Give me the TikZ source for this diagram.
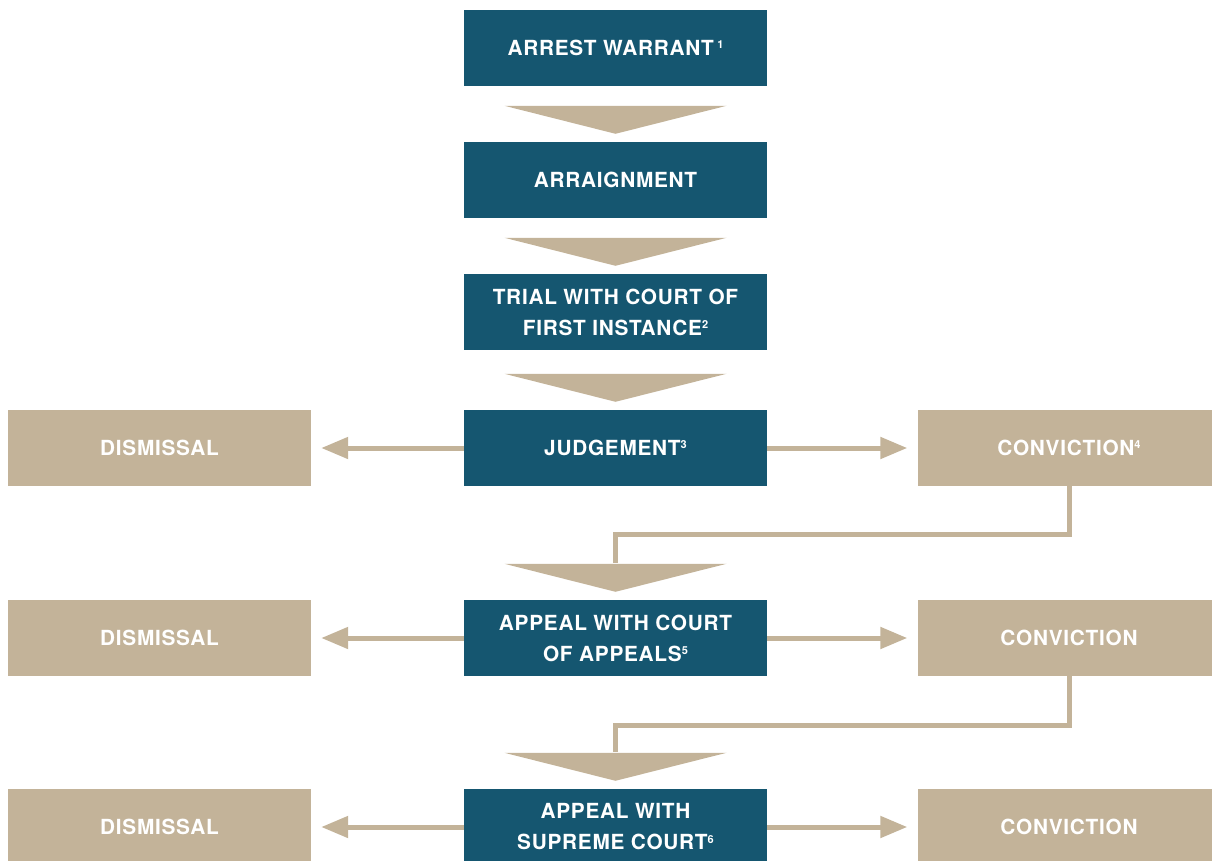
\documentclass[tikz,border=0pt]{standalone}
\usepackage{fontspec}
\setmainfont{TeX Gyre Heros}[LetterSpace=3.5]
\usetikzlibrary{arrows.meta,calc}
\definecolor{navy}{HTML}{155670}
\definecolor{sand}{HTML}{C3B399}
% small raised footnote digit
\newcommand\fnmark[1]{\raisebox{0.62ex}{\fontsize{11}{11}\selectfont #1}}
% wide flat arrowhead sitting just above a stage box
\newcommand\headto[1]{\fill[sand] ($(#1.north)+(-111,-36)$) -- ($(#1.north)+(111,-36)$) -- ($(#1.north)+(0,-8)$) -- cycle;}

\begin{document}
\begin{tikzpicture}[x=1pt,y=-1pt,
  stage/.style={fill=navy,text=white,minimum width=303pt,minimum height=76pt,
    inner sep=0pt,align=center,font=\fontsize{20.8}{31}\selectfont\bfseries},
  outcome/.style={stage,fill=sand},
  flow/.style={draw=sand,line width=5pt},
  side/.style={flow,-{Triangle[length=27pt,width=21pt]},shorten >=10pt},
]
\useasboundingbox (0,0) rectangle (1212,861);

% main procedure
\node[stage] (warrant) at (615.5,48)  {ARREST WARRANT\,\fnmark{1}};
\node[stage] (arraign) at (615.5,180) {ARRAIGNMENT};
\node[stage] (trial)   at (615.5,312) {TRIAL WITH COURT OF\\FIRST INSTANCE\fnmark{2}};
\node[stage] (judge)   at (615.5,448) {JUDGEMENT\fnmark{3}};
\node[stage] (appeal)  at (615.5,638) {APPEAL WITH COURT\\OF APPEALS\fnmark{5}};
\node[stage] (supreme) at (615.5,827) {APPEAL WITH\\SUPREME COURT\fnmark{6}};

% outcomes
\node[outcome] (dis1)  at (159.5,448) {DISMISSAL};
\node[outcome] (conv1) at (1069,448)  {CONVICTION\fnmark{4}};
\node[outcome] (dis2)  at (159.5,638) {DISMISSAL};
\node[outcome] (conv2) at (1069,638)  {CONVICTION};
\node[outcome] (dis3)  at (159.5,827) {DISMISSAL};
\node[outcome] (conv3) at (1069,827)  {CONVICTION};

% downward steps
\headto{arraign}
\headto{trial}
\headto{judge}
\headto{appeal}
\headto{supreme}

% branches to the outcomes
\draw[side] (judge.west)   -- (dis1.east);
\draw[side] (judge.east)   -- (conv1.west);
\draw[side] (appeal.west)  -- (dis2.east);
\draw[side] (appeal.east)  -- (conv2.west);
\draw[side] (supreme.west) -- (dis3.east);
\draw[side] (supreme.east) -- (conv3.west);

% a conviction leads on to the next appeal
\draw[flow] (conv1.south) -- ++(0,48) -| ($(appeal.north)+(0,-37)$);
\draw[flow] (conv2.south) -- ++(0,49) -| ($(supreme.north)+(0,-37)$);
\end{tikzpicture}
\end{document}
